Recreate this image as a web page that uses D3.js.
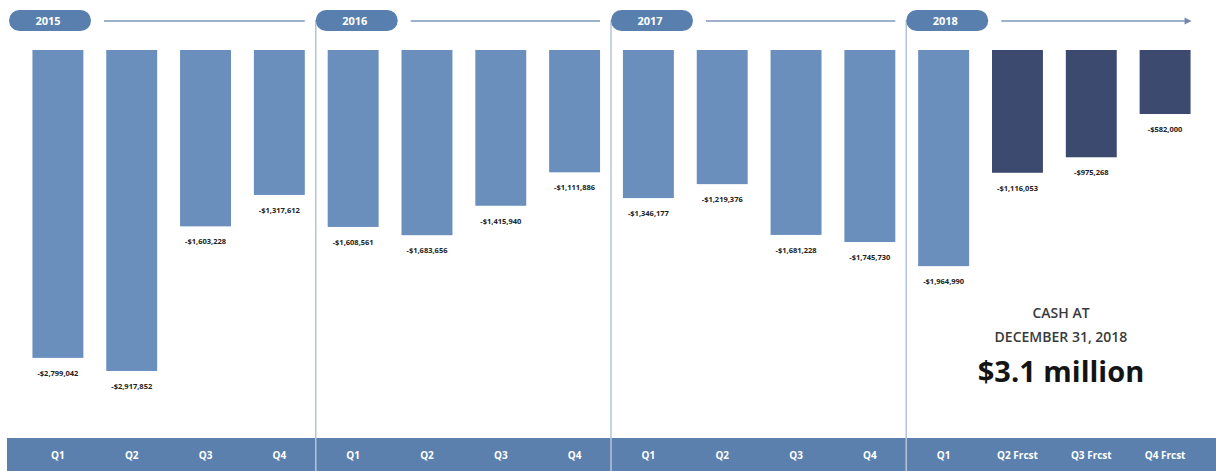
<!DOCTYPE html>
<html>
<head>
<meta charset="utf-8">
<script src="https://cdn.jsdelivr.net/npm/d3@7"></script>
<style>
  body { margin: 0; background: #fff; }
  text { font-family: "Open Sans", "Liberation Sans", sans-serif; }
</style>
</head>
<body>
<div id="chart"></div>
<script>
(function () {
	var width = 1216;
	var height = 471;

	var years = ["2015", "2016", "2017", "2018"];
	var quarters = ["Q1", "Q2", "Q3", "Q4"];
	var quarterLabels2018 = ["Q1", "Q2 Frcst", "Q3 Frcst", "Q4 Frcst"];
	var burn2015 = [2799042, 2917852, 1603228, 1317612];
	var burn2016 = [1608561, 1683656, 1415940, 1111886];
	var burn2017 = [1346177, 1219376, 1681228, 1745730];
	var burn2018 = [1964990, 1116053, 975268, 582000];
	var forecast2018 = [false, true, true, true];

	var burnByYear = [burn2015, burn2016, burn2017, burn2018];

	// flatten into one row per quarter
	var data = [];
	years.forEach(function (y, i) {
		quarters.forEach(function (q, j) {
			data.push({
				key: y + "-" + q,
				year: y,
				label: i === 3 ? quarterLabels2018[j] : q,
				value: burnByYear[i][j],
				forecast: i === 3 && forecast2018[j]
			});
		});
	});

	var svg = d3.select("#chart")
	   .append("svg")
	   .attr("width", width)
	   .attr("height", height);

	var x = d3.scaleBand()
	  .domain(data.map(function (d) { return d.key; }))
	  .range([21, 1202])
	  .paddingInner(0.31)
	  .paddingOuter(0.155);

	var y = d3.scaleLinear().domain([0, 3500000]).range([50, 435]);

	var fmt = d3.format(",");
	var step = x.step();

	// bottom quarter strip
	svg.append("rect")
	  .attr("x", 7).attr("y", 438)
	  .attr("width", width - 7).attr("height", 33)
	  .attr("fill", "#5b80ae");

	// year dividers, pills and timeline lines
	years.forEach(function (yr, i) {
		var first = x(yr + "-Q1");
		var last = x(yr + "-Q4") + x.bandwidth();
		var left = first - (step - x.bandwidth()) / 2 - 0.5;
		var pillX = i === 0 ? 9 : left;

		if (i > 0) {
			svg.append("line")
			  .attr("x1", left).attr("x2", left)
			  .attr("y1", 20).attr("y2", 471)
			  .attr("stroke", "#b3c4d8").attr("stroke-width", 1.5);
		}

		svg.append("rect")
		  .attr("x", pillX).attr("y", 10)
		  .attr("width", 82).attr("height", 21)
		  .attr("rx", 10.5)
		  .attr("fill", "#587fae");

		svg.append("text")
		  .attr("x", pillX + 39).attr("y", 24.5)
		  .attr("text-anchor", "middle")
		  .attr("font-size", 11)
		  .attr("font-weight", "bold")
		  .attr("fill", "#fff")
		  .text(yr);

		svg.append("line")
		  .attr("x1", pillX + 95).attr("x2", i === 3 ? last - 4 : last)
		  .attr("y1", 21).attr("y2", 21)
		  .attr("stroke", "#7f97b8").attr("stroke-width", 1.3);

		if (i === 3) {
			svg.append("path")
			  .attr("d", "M" + (last - 6) + ",17.5 L" + (last + 1) + ",21 L" + (last - 6) + ",24.5 Z")
			  .attr("fill", "#6f88ab");
		}
	});

	// bars
	svg.selectAll(".bar")
	  .data(data)
	  .enter().append("rect")
	  .attr("class", "bar")
	  .attr("x", function (d) { return x(d.key); })
	  .attr("y", y(0))
	  .attr("width", x.bandwidth())
	  .attr("height", function (d) { return y(d.value) - y(0); })
	  .attr("fill", function (d) { return d.forecast ? "#3c4a70" : "#6a8fbd"; });

	// value labels
	svg.selectAll(".val")
	  .data(data)
	  .enter().append("text")
	  .attr("class", "val")
	  .attr("x", function (d) { return x(d.key) + x.bandwidth() / 2; })
	  .attr("y", function (d) { return y(d.value) + 18; })
	  .attr("text-anchor", "middle")
	  .attr("font-size", 7.5)
	  .attr("font-weight", "bold")
	  .attr("fill", "#222")
	  .text(function (d) { return "-$" + fmt(d.value); });

	// quarter labels in the strip
	svg.selectAll(".q")
	  .data(data)
	  .enter().append("text")
	  .attr("class", "q")
	  .attr("x", function (d) { return x(d.key) + x.bandwidth() / 2; })
	  .attr("y", 459)
	  .attr("text-anchor", "middle")
	  .attr("font-size", 10)
	  .attr("font-weight", "bold")
	  .attr("fill", "#fff")
	  .text(function (d) { return d.label; });

	// cash callout
	var cx = 1061;
	svg.append("text").attr("x", cx).attr("y", 318)
	  .attr("text-anchor", "middle").attr("font-size", 14).attr("font-weight", 600)
	  .attr("fill", "#3a3a3a").text("CASH AT");
	svg.append("text").attr("x", cx).attr("y", 342)
	  .attr("text-anchor", "middle").attr("font-size", 14).attr("font-weight", 600)
	  .attr("fill", "#3a3a3a").text("DECEMBER 31, 2018");
	svg.append("text").attr("x", cx).attr("y", 382)
	  .attr("text-anchor", "middle").attr("font-size", 29).attr("font-weight", "bold")
	  .attr("fill", "#141414").text("$3.1 million");
})();
</script>
</body>
</html>
